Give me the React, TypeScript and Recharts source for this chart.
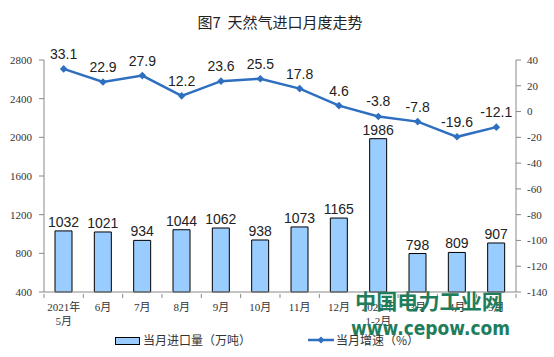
import React from 'react';
import { ComposedChart, Bar, Line, XAxis, YAxis, Legend, LabelList } from 'recharts';

// chart data
const months = ['2021年\n5月', '6月', '7月', '8月', '9月', '10月', '11月', '12月', '2022年\n1-2月', '3月', '4月', '5月'];
const importVolume = [1032, 1021, 934, 1044, 1062, 938, 1073, 1165, 1986, 798, 809, 907];
const growthRate = [33.1, 22.9, 27.9, 12.2, 23.6, 25.5, 17.8, 4.6, -3.8, -7.8, -19.6, -12.1];
const leftTicks = [400, 800, 1200, 1600, 2000, 2400, 2800];
const rightTicks = [-140, -120, -100, -80, -60, -40, -20, 0, 20, 40];

const TITLE = '图7\u00A0\u00A0天然气进口月度走势';
const BAR_NAME = '当月进口量（万吨）';
const LINE_NAME = '当月增速（%）';

const W = 554;
const H = 357;
const LEFT_W = 44;
const RIGHT_W = 38;
const HALF_BAND = (W - LEFT_W - RIGHT_W) / months.length / 2;

const SERIF = '"Liberation Serif", "Noto Sans CJK SC", serif';
const SANS = '"Liberation Sans", Arial, sans-serif';
const CJK = '"Noto Sans CJK SC", sans-serif';

const data = months.map((m, i) => ({
  month: m,
  volume: importVolume[i],
  rate: growthRate[i],
}));

function MonthTick(props: any) {
  const { x, y, payload, index } = props;
  const lines = String(payload.value).split('\n');
  return (
    <g>
      <line x1={x + HALF_BAND} x2={x + HALF_BAND} y1={y} y2={y + 4} stroke="#888" />
      {index === 0 && <line x1={x - HALF_BAND} x2={x - HALF_BAND} y1={y} y2={y + 4} stroke="#888" />}
      <text x={x} y={y + 17} textAnchor="middle" fontSize={11} fill="#333" fontFamily={SERIF}>
        {lines.map((l, i) => (
          <tspan key={i} x={x} dy={i === 0 ? 0 : 14}>
            {l}
          </tspan>
        ))}
      </text>
    </g>
  );
}

function Diamond(props: any) {
  const { cx, cy } = props;
  if (cx == null || cy == null) return null;
  const r = 3.8;
  return <polygon points={`${cx},${cy - r} ${cx + r},${cy} ${cx},${cy + r} ${cx - r},${cy}`} fill="#2E6FC0" />;
}

function LegendBox() {
  return (
    <div style={{ position: 'relative', width: W, height: 18, fontFamily: CJK, fontSize: 12, color: '#333' }}>
      <div style={{ position: 'absolute', left: 115, top: 6, width: 23, height: 6, background: '#99CCFF', border: '1px solid #000' }} />
      <div style={{ position: 'absolute', left: 143, top: 0, lineHeight: '18px' }}>{BAR_NAME}</div>
      <svg style={{ position: 'absolute', left: 308, top: 0 }} width={26} height={18}>
        <line x1={0} x2={26} y1={9} y2={9} stroke="#2E6FC0" strokeWidth={2.5} />
        <polygon points="13,5.5 16.5,9 13,12.5 9.5,9" fill="#2E6FC0" />
      </svg>
      <div style={{ position: 'absolute', left: 336, top: 0, lineHeight: '18px' }}>{LINE_NAME}</div>
    </div>
  );
}

export default function App() {
  return (
    <div style={{ position: 'absolute', left: 0, top: 0, width: W, height: H, background: '#fff' }}>
      <ComposedChart width={W} height={H} data={data} margin={{ top: 60, right: 0, bottom: 8, left: 0 }}>
        <XAxis
          dataKey="month"
          interval={0}
          height={39}
          tick={<MonthTick />}
          tickLine={false}
          tickSize={0}
          axisLine={{ stroke: '#888' }}
        />
        <YAxis
          yAxisId="left"
          width={LEFT_W}
          domain={[400, 2800]}
          ticks={leftTicks}
          interval={0}
          tickSize={5}
          tickMargin={7}
          tick={{ fontSize: 11, fill: '#333', fontFamily: SERIF }}
          tickLine={{ stroke: '#888' }}
          axisLine={{ stroke: '#888' }}
        />
        <YAxis
          yAxisId="right"
          orientation="right"
          width={RIGHT_W}
          domain={[-140, 40]}
          ticks={rightTicks}
          interval={0}
          tickSize={5}
          tickMargin={6}
          tick={{ fontSize: 11, fill: '#333', fontFamily: SERIF }}
          tickLine={{ stroke: '#888' }}
          axisLine={{ stroke: '#888' }}
        />
        <Legend verticalAlign="bottom" height={18} content={() => <LegendBox />} />
        <Bar
          yAxisId="left"
          dataKey="volume"
          name={BAR_NAME}
          fill="#99CCFF"
          stroke="#000"
          strokeWidth={1}
          barSize={17}
          isAnimationActive={false}
        >
          <LabelList dataKey="volume" position="top" offset={4} fontSize={14} fill="#222" fontFamily={SANS} />
        </Bar>
        <Line
          yAxisId="right"
          dataKey="rate"
          name={LINE_NAME}
          stroke="#2E6FC0"
          strokeWidth={2.5}
          dot={<Diamond />}
          activeDot={false}
          isAnimationActive={false}
        >
          <LabelList dataKey="rate" position="top" offset={10} fontSize={14} fill="#222" fontFamily={SANS} />
        </Line>
      </ComposedChart>
      <svg
        width={W}
        height={H}
        style={{ position: 'absolute', left: 0, top: 0, pointerEvents: 'none' }}
      >
        <text x={280} y={28} textAnchor="middle" fontSize={15} fill="#222" fontFamily={CJK}>
          {TITLE}
        </text>
        <text
          x={355}
          y={309}
          fontSize={21}
          fontWeight="bold"
          fill="#1F7D5C"
          fontFamily={CJK}
          textLength={148}
          lengthAdjust="spacingAndGlyphs"
        >
          中国电力工业网
        </text>
        <text
          x={351}
          y={335}
          fontSize={19}
          fontWeight="bold"
          fill="#1F7D5C"
          fontFamily='"DejaVu Sans", sans-serif'
          textLength={159}
          lengthAdjust="spacingAndGlyphs"
        >
          www.cepow.com
        </text>
      </svg>
    </div>
  );
}
